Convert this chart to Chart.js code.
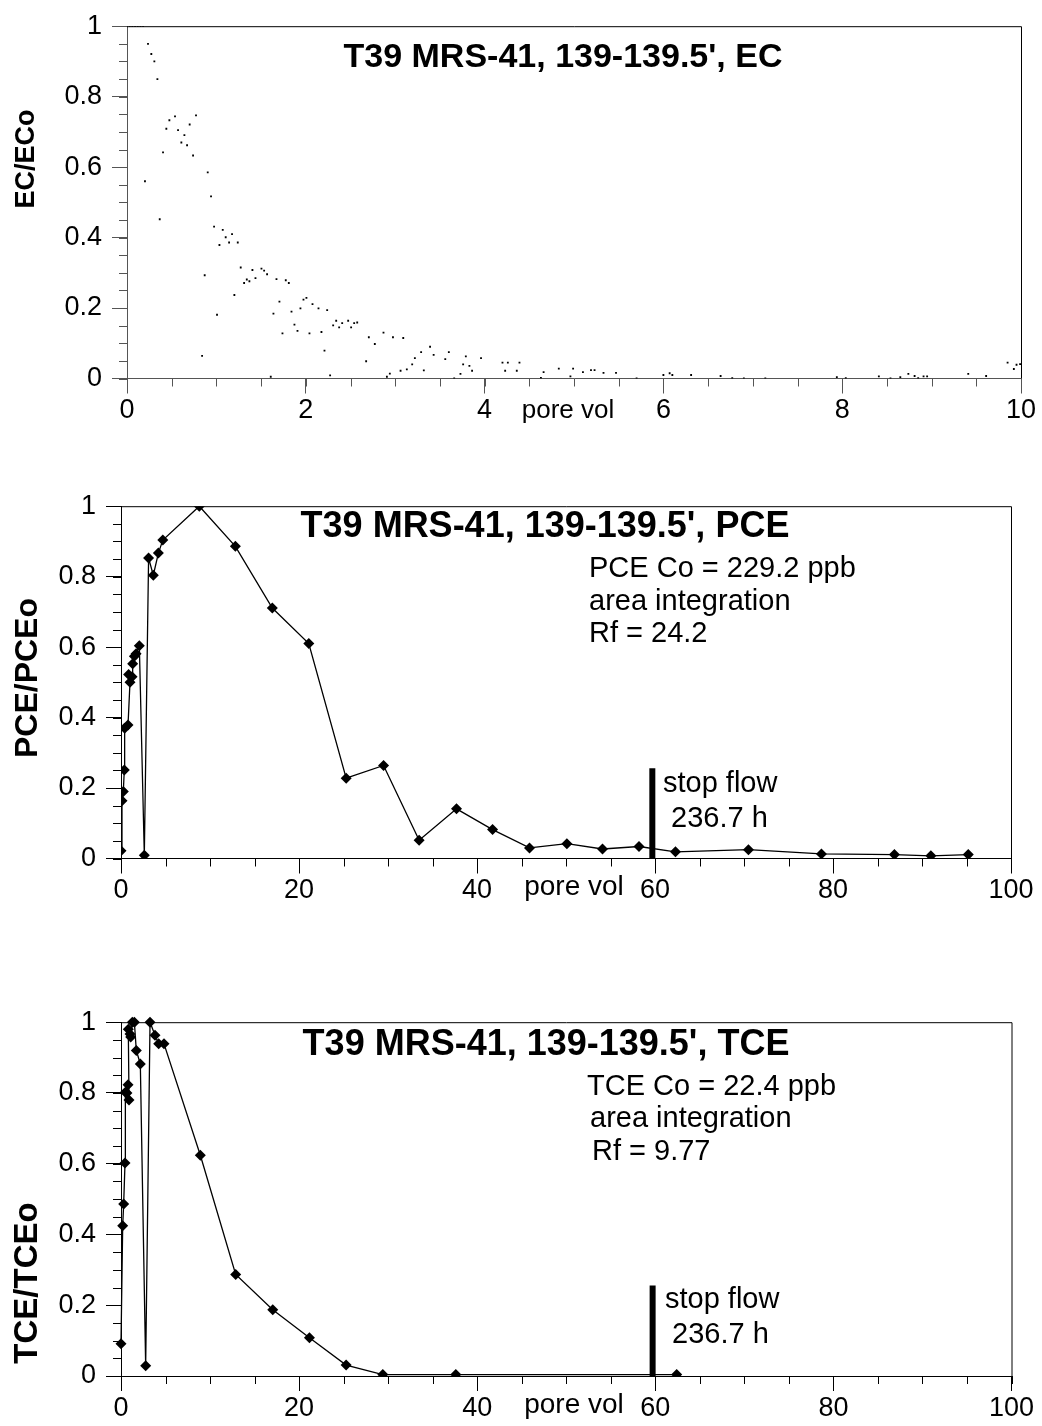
<!DOCTYPE html>
<html>
<head>
<meta charset="utf-8">
<script src="https://cdn.jsdelivr.net/npm/chart.js@4.4.0/dist/chart.umd.min.js"></script>
<style>
  body { margin: 0; background: #fff; }
  .box { position: absolute; left: 0; width: 1042px; }
</style>
</head>
<body>
<div class="box" style="top:0;height:440px"><canvas id="ecChart"></canvas></div>
<div class="box" style="top:480px;height:440px"><canvas id="pceChart"></canvas></div>
<div class="box" style="top:996px;height:430px"><canvas id="tceChart"></canvas></div>
<script>
// ---- EC breakthrough (pore volumes vs EC/ECo)
let ecPoreVol = [0.03, 0.06, 0.09, 0.12, 0.15, 0.18, 0.235, 0.272, 0.306, 0.34, 0.201, 0.366, 0.403, 0.44, 0.474,
  0.537, 0.571, 0.608, 0.642, 0.672, 0.701, 0.739, 0.772, 0.84, 0.869, 0.903, 0.94, 0.974, 1.007, 1.034,
  1.071, 1.104, 1.142, 1.175, 1.201, 1.239, 1.272, 1.31, 1.34, 1.369, 1.403, 1.437, 1.504, 1.534, 1.567,
  1.608, 1.638, 1.672, 1.705, 1.739, 1.776, 1.81, 1.84, 1.873, 1.907, 1.94, 1.974, 2.007, 2.041, 2.075,
  2.142, 2.175, 2.209, 2.239, 2.272, 2.306, 2.34, 2.373, 2.407, 2.474, 2.507, 2.541, 2.575, 2.675, 2.705,
  2.772, 2.869, 2.907, 2.94, 2.975, 3.06, 3.09, 3.13, 3.19, 3.22, 3.29, 3.32, 3.39, 3.43, 3.56, 3.6, 3.66,
  3.73, 3.76, 3.79, 3.83, 3.86, 3.96, 4.2, 4.23, 4.26, 4.36, 4.39, 4.63, 4.66, 4.83, 4.96, 4.99, 5.1, 5.19,
  5.23, 5.33, 5.47, 5.7, 6.0, 6.07, 6.1, 6.31, 6.64, 6.77, 6.9, 7.14, 7.94, 8.04, 8.41, 8.54, 8.65, 8.74,
  8.81, 8.85, 8.91, 8.95, 9.41, 9.61, 9.85, 9.92, 9.95, 9.99];
let ecRatio = [1, 1, 1, 1, 1, 1, 0.95, 0.921, 0.9, 0.85, 0.56, 0.452, 0.642, 0.709, 0.733,
  0.744, 0.705, 0.67, 0.691, 0.662, 0.721, 0.633, 0.747, 0.064, 0.293, 0.585, 0.517, 0.431, 0.181, 0.379,
  0.422, 0.401, 0.386, 0.41, 0.237, 0.386, 0.315, 0.271, 0.281, 0.276, 0.308, 0.285, 0.312, 0.306, 0.296,
  0.005, 0.184, 0.282, 0.218, 0.128, 0.279, 0.271, 0.19, 0.153, 0.135, 0.199, 0.224, 0.229, 0.128, 0.211,
  0.199, 0.132, 0.079, 0.194, 0.009, 0.151, 0.164, 0.145, 0.157, 0.164, 0.145, 0.157, 0.159, 0.049, 0.117,
  0.098, 0.13, 0.005, 0.014, 0.117, 0.022, 0.115, 0.026, 0.04, 0.058, 0.075, 0.023, 0.09, 0.067, 0.055, 0.075, 0.0,
  0.013, 0.04, 0.063, 0.036, 0.022, 0.058, 0.045, 0.022, 0.045, 0.022, 0.045, 0.002, 0.018, 0.028, 0.006, 0.028, 0.018, 0.024,
  0.024, 0.016, 0.016, 0.0, 0.01, 0.015, 0.01, 0.01, 0.007, 0.001, 0.0, 0.0, 0.004, 0.001, 0.006, 0.0, 0.004, 0.013,
  0.007, 0.001, 0.006, 0.006, 0.013, 0.007, 0.045, 0.027, 0.039, 0.041];

// ---- PCE
let pcePoreVol = [0.0, 0.11, 0.26, 0.37, 0.41, 0.79, 1.01, 0.86, 1.24, 1.31, 1.5, 1.69, 2.06, 2.62, 3.1, 3.63, 4.2, 4.7,
  8.8, 12.85, 17.0, 21.1, 25.3, 29.5, 33.5, 37.7, 41.75, 45.9, 50.1, 54.1, 58.2, 62.3, 70.5, 78.7, 86.9, 91.0, 95.2];
let pceRatio = [0.022, 0.164, 0.19, 0.251, 0.37, 0.379, 0.5, 0.522, 0.516, 0.553, 0.574, 0.581, 0.604, 0.009, 0.853, 0.804, 0.867, 0.904,
  1.0, 0.886, 0.711, 0.61, 0.228, 0.264, 0.052, 0.141, 0.082, 0.03, 0.042, 0.027, 0.034, 0.019, 0.025, 0.013, 0.011, 0.0075, 0.011];

// ---- TCE
let tcePoreVol = [0.0, 0.19, 0.3, 0.45, 0.49, 0.79, 0.67, 0.9, 0.82, 1.01, 1.09, 1.27, 1.5, 1.72, 2.17, 2.77, 3.26, 3.82, 4.23, 4.83,
  8.91, 12.88, 17.04, 21.16, 25.28, 29.4, 37.6, 62.4];
let tceRatio = [0.091, 0.425, 0.486, 0.602, 0.802, 0.823, 0.8, 0.78, 0.98, 0.967, 0.958, 1.0, 1.0, 0.92, 0.882, 0.029, 1.0, 0.963, 0.939, 0.939,
  0.624, 0.287, 0.187, 0.108, 0.031, 0.004, 0.004, 0.004];

// stop flow marker (pore vol, height)
let stopFlowX = [59.7, 59.7];
let stopFlowY = [0, 0.256];

let ecXTicks = [0, 2, 4, 6, 8, 10];
let poreXTicks = [0, 20, 40, 60, 80, 100];
let ratioYTicks = [0, 0.2, 0.4, 0.6, 0.8, 1];

const FONT = "'Liberation Sans', Arial, Helvetica, sans-serif";

function pts(xs, ys) {
  return xs.map((x, i) => ({ x: x, y: ys[i] }));
}

// frame, minor ticks and free text
function decor(minorX, minorY, axisColor, notes) {
  return {
    id: 'decor',
    afterDraw(chart) {
      const ctx = chart.ctx;
      const a = chart.chartArea;
      const xs = chart.scales.x, ys = chart.scales.y;
      ctx.save();
      ctx.strokeStyle = '#000';
      ctx.lineWidth = 1;
      ctx.beginPath();
      ctx.moveTo(a.left, a.top + 0.5);
      ctx.lineTo(a.right + 0.5, a.top + 0.5);
      ctx.lineTo(a.right + 0.5, a.bottom);
      ctx.stroke();

      ctx.strokeStyle = axisColor;
      ctx.beginPath();
      for (let v = xs.min; v <= xs.max + 1e-9; v += minorX) {
        const px = Math.round(xs.getPixelForValue(v)) + 0.5;
        ctx.moveTo(px, a.bottom);
        ctx.lineTo(px, a.bottom + 8);
      }
      for (let v = ys.min; v <= ys.max + 1e-9; v += minorY) {
        const py = Math.round(ys.getPixelForValue(v)) + 0.5;
        ctx.moveTo(a.left, py);
        ctx.lineTo(a.left - 8, py);
      }
      ctx.stroke();

      ctx.fillStyle = '#000';
      notes.forEach(n => {
        ctx.save();
        ctx.font = (n.bold ? 'bold ' : '') + n.size + 'px ' + FONT;
        ctx.textAlign = n.align || 'left';
        ctx.textBaseline = n.base || 'alphabetic';
        ctx.translate(n.x, n.y);
        if (n.rot) ctx.rotate(-Math.PI / 2);
        ctx.fillText(n.text, 0, 0);
        ctx.restore();
      });
      ctx.restore();
    }
  };
}

function makeChart(id, datasets, cfg) {
  const axisColor = cfg.axisColor || '#000';
  return new Chart(document.getElementById(id), {
    type: 'scatter',
    data: { datasets: datasets },
    options: {
      animation: false,
      responsive: true,
      maintainAspectRatio: false,
      devicePixelRatio: 1,
      layout: { padding: { top: cfg.padTop, right: cfg.padRight, left: 0, bottom: 0 } },
      plugins: { legend: { display: false }, tooltip: { enabled: false } },
      scales: {
        x: {
          type: 'linear', min: 0, max: cfg.xMax,
          afterBuildTicks: s => { s.ticks = cfg.xTicks.map(v => ({ value: v })); },
          afterFit: s => { s.height = cfg.xAxisH; },
          grid: { drawOnChartArea: false, drawTicks: true, tickLength: 15, color: axisColor },
          border: { display: true, color: axisColor, width: 1 },
          ticks: { color: '#000', padding: 1, maxRotation: 0, autoSkip: false,
            callback: v => String(v), font: { family: FONT, size: 27 } }
        },
        y: {
          type: 'linear', min: 0, max: 1,
          afterBuildTicks: s => { s.ticks = ratioYTicks.map(v => ({ value: v })); },
          afterFit: s => { s.width = cfg.yAxisW; },
          grid: { drawOnChartArea: false, drawTicks: true, tickLength: 15, color: axisColor },
          border: { display: true, color: axisColor, width: 1 },
          ticks: { color: '#000', padding: 10, autoSkip: false,
            callback: v => String(v), font: { family: FONT, size: 27 } }
        }
      }
    },
    plugins: [decor(cfg.minorX, 0.05, axisColor, cfg.notes)]
  });
}

function stopFlowSet() {
  return {
    data: pts(stopFlowX, stopFlowY),
    showLine: true, borderColor: '#000', borderWidth: 6, borderCapStyle: 'butt',
    pointRadius: 0
  };
}

makeChart('ecChart', [{
  data: pts(ecPoreVol, ecRatio),
  pointStyle: 'rect', pointRadius: 1.3, pointBorderWidth: 0,
  pointBackgroundColor: '#000', borderColor: '#000'
}], {
  xMax: 10, xTicks: ecXTicks, minorX: 0.5, padTop: 22, padRight: 21, yAxisW: 127, xAxisH: 61.5,
  axisColor: '#555',
  notes: [
    { text: "T39 MRS-41, 139-139.5', EC", x: 563, y: 66.5, size: 34, bold: true, align: 'center' },
    { text: 'pore vol', x: 568, y: 410.5, size: 26, align: 'center', base: 'middle' },
    { text: 'EC/ECo', x: 27, y: 159, size: 27, bold: true, align: 'center', base: 'middle', rot: true }
  ]
});

makeChart('pceChart', [{
  data: pts(pcePoreVol, pceRatio),
  showLine: true, borderColor: '#000', borderWidth: 1.3,
  pointStyle: 'rectRot', pointRadius: 5.5, pointBackgroundColor: '#000', pointBorderWidth: 0
}, stopFlowSet()], {
  xMax: 100, xTicks: poreXTicks, minorX: 5, padTop: 22.7, padRight: 31, yAxisW: 121, xAxisH: 61.5,
  notes: [
    { text: "T39 MRS-41, 139-139.5', PCE", x: 545, y: 57, size: 36, bold: true, align: 'center' },
    { text: 'PCE Co = 229.2 ppb', x: 589, y: 97, size: 29 },
    { text: 'area integration', x: 589, y: 129.5, size: 29 },
    { text: 'Rf = 24.2', x: 589, y: 162, size: 29 },
    { text: 'stop flow', x: 663, y: 312, size: 29 },
    { text: '236.7 h', x: 671, y: 347, size: 29 },
    { text: 'pore vol', x: 574, y: 407.5, size: 28, align: 'center', base: 'middle' },
    { text: 'PCE/PCEo', x: 28, y: 198, size: 32, bold: true, align: 'center', base: 'middle', rot: true }
  ]
});

makeChart('tceChart', [{
  data: pts(tcePoreVol, tceRatio),
  showLine: true, borderColor: '#000', borderWidth: 1.3,
  pointStyle: 'rectRot', pointRadius: 5.5, pointBackgroundColor: '#000', pointBorderWidth: 0,
  clip: { left: false, top: false, right: false, bottom: 0 }
}, stopFlowSet()], {
  xMax: 100, xTicks: poreXTicks, minorX: 5, padTop: 22.3, padRight: 30.5, yAxisW: 121, xAxisH: 50,
  notes: [
    { text: "T39 MRS-41, 139-139.5', TCE", x: 546, y: 59, size: 36, bold: true, align: 'center' },
    { text: 'TCE Co = 22.4 ppb', x: 587, y: 99, size: 29 },
    { text: 'area integration', x: 590, y: 131, size: 29 },
    { text: 'Rf = 9.77', x: 592, y: 164, size: 29 },
    { text: 'stop flow', x: 665, y: 312, size: 29 },
    { text: '236.7 h', x: 672, y: 347, size: 29 },
    { text: 'pore vol', x: 574, y: 409, size: 28, align: 'center', base: 'middle' },
    { text: 'TCE/TCEo', x: 28, y: 287, size: 33, bold: true, align: 'center', base: 'middle', rot: true }
  ]
});
</script>
</body>
</html>
